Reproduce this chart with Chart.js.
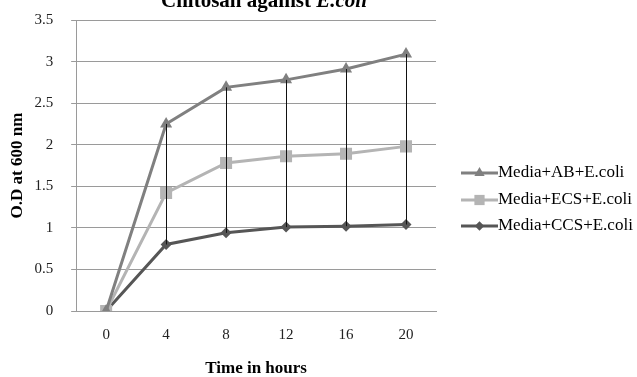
<!DOCTYPE html>
<html>
<head>
<meta charset="utf-8">
<script src="https://cdn.jsdelivr.net/npm/chart.js@4/dist/chart.umd.min.js"></script>
<style>
  html, body { margin: 0; padding: 0; background: #ffffff; }
  #wrap { width: 637px; height: 377px; position: relative; }
</style>
</head>
<body>
<div id="wrap"><canvas id="chart"></canvas></div>
<script>
const hours = ["0", "4", "8", "12", "16", "20"];
const yTicks = [0, 0.5, 1, 1.5, 2, 2.5, 3, 3.5];

const mediaAB = [0, 2.25, 2.69, 2.78, 2.91, 3.09];
const mediaECS = [0, 1.42, 1.78, 1.86, 1.89, 1.98];
const mediaCCS = [0, 0.80, 0.94, 1.01, 1.02, 1.04];

const seriesNames = ["Media+AB+E.coli", "Media+ECS+E.coli", "Media+CCS+E.coli"];
const seriesColors = ["#808080", "#b4b4b4", "#565656"];
const seriesMarkers = ["triangle", "rect", "rectRot"];
const markerRadius = [7, 8.5, 5.5];

const serif = "'Liberation Serif', 'DejaVu Serif', serif";

// thin black high-low lines between top and bottom series
const hiLoLines = {
  id: "hiLoLines",
  afterDatasetsDraw(chart) {
    const { ctx, scales } = chart;
    ctx.save();
    ctx.strokeStyle = "#111111";
    ctx.lineWidth = 1;
    hours.forEach((h, i) => {
      const vals = [mediaAB[i], mediaECS[i], mediaCCS[i]];
      const hi = Math.max(...vals);
      const lo = Math.min(...vals);
      if (hi === lo) return;
      const x = Math.round(scales.x.getPixelForValue(i)) + 0.5;
      ctx.beginPath();
      ctx.moveTo(x, scales.y.getPixelForValue(hi));
      ctx.lineTo(x, scales.y.getPixelForValue(lo));
      ctx.stroke();
    });
    ctx.restore();
  }
};

// title with italic species name, partly cut by the top edge
const mixedTitle = {
  id: "mixedTitle",
  afterDraw(chart) {
    const { ctx } = chart;
    const a = "Chitosan against ";
    const b = "E.coli";
    ctx.save();
    ctx.fillStyle = "#000000";
    ctx.textBaseline = "alphabetic";
    ctx.font = "bold 21px " + serif;
    const wa = ctx.measureText(a).width;
    ctx.font = "italic bold 21px " + serif;
    const wb = ctx.measureText(b).width;
    const x = 264 - (wa + wb) / 2;
    ctx.font = "bold 21px " + serif;
    ctx.fillText(a, x, 7);
    ctx.font = "italic bold 21px " + serif;
    ctx.fillText(b, x + wa, 7);
    ctx.restore();
  }
};

// legend at the right: line + marker swatch, then the name
const sideLegend = {
  id: "sideLegend",
  afterDraw(chart) {
    const { ctx, chartArea } = chart;
    const x0 = chartArea.right + 25;
    const rowY = [173, 200, 226];
    ctx.save();
    chart.data.datasets.forEach((ds, i) => {
      const y = rowY[i];
      ctx.strokeStyle = ds.borderColor;
      ctx.fillStyle = ds.borderColor;
      ctx.lineWidth = 3;
      ctx.beginPath();
      ctx.moveTo(x0, y);
      ctx.lineTo(x0 + 37, y);
      ctx.stroke();
      Chart.helpers.drawPoint(ctx, {
        pointStyle: seriesMarkers[i],
        radius: markerRadius[i] * 0.85,
        borderWidth: 0
      }, x0 + 18.5, y);
      ctx.fillStyle = "#000";
      ctx.font = "17px " + serif;
      ctx.textBaseline = "middle";
      ctx.fillText(ds.label, x0 + 37, y);
    });
    ctx.restore();
  }
};

const datasets = [mediaAB, mediaECS, mediaCCS].map((vals, k) => ({
  label: seriesNames[k],
  data: vals,
  borderColor: seriesColors[k],
  backgroundColor: seriesColors[k],
  borderWidth: 3,
  pointStyle: seriesMarkers[k],
  pointRadius: markerRadius[k],
  pointBorderWidth: 0,
  tension: 0,
  fill: false
}));

new Chart(document.getElementById("chart"), {
  type: "line",
  data: { labels: hours, datasets },
  plugins: [hiLoLines, mixedTitle, sideLegend],
  options: {
    responsive: true,
    maintainAspectRatio: false,
    animation: false,
    layout: { padding: { top: 20, left: 0, right: 201, bottom: 0 } },
    scales: {
      x: {
        offset: true,
        grid: { display: false, drawTicks: false },
        border: { color: "#9a9a9a", width: 1 },
        ticks: { color: "#222", padding: 15, font: { family: serif, size: 15 } },
        title: {
          display: true,
          text: "Time in hours",
          color: "#000",
          padding: { top: 1, bottom: 0 },
          font: { family: serif, size: 17, weight: "bold", lineHeight: 1 }
        }
      },
      y: {
        min: 0,
        max: 3.5,
        afterBuildTicks: (axis) => { axis.ticks = yTicks.map(v => ({ value: v })); },
        afterFit: (axis) => { axis.paddingTop = 0; axis.paddingBottom = 0; },
        grid: { color: "#9a9a9a", tickLength: 5 },
        border: { color: "#9a9a9a", width: 1 },
        ticks: {
          color: "#222",
          padding: 18,
          font: { family: serif, size: 15 },
          callback: (v) => String(v)
        },
        title: {
          display: true,
          text: "O.D at 600 nm",
          color: "#000",
          padding: { top: 7, bottom: -11 },
          font: { family: serif, size: 17, weight: "bold" }
        }
      }
    },
    plugins: {
      title: { display: false },
      tooltip: { enabled: false },
      legend: { display: false }
    }
  }
});
</script>
</body>
</html>
